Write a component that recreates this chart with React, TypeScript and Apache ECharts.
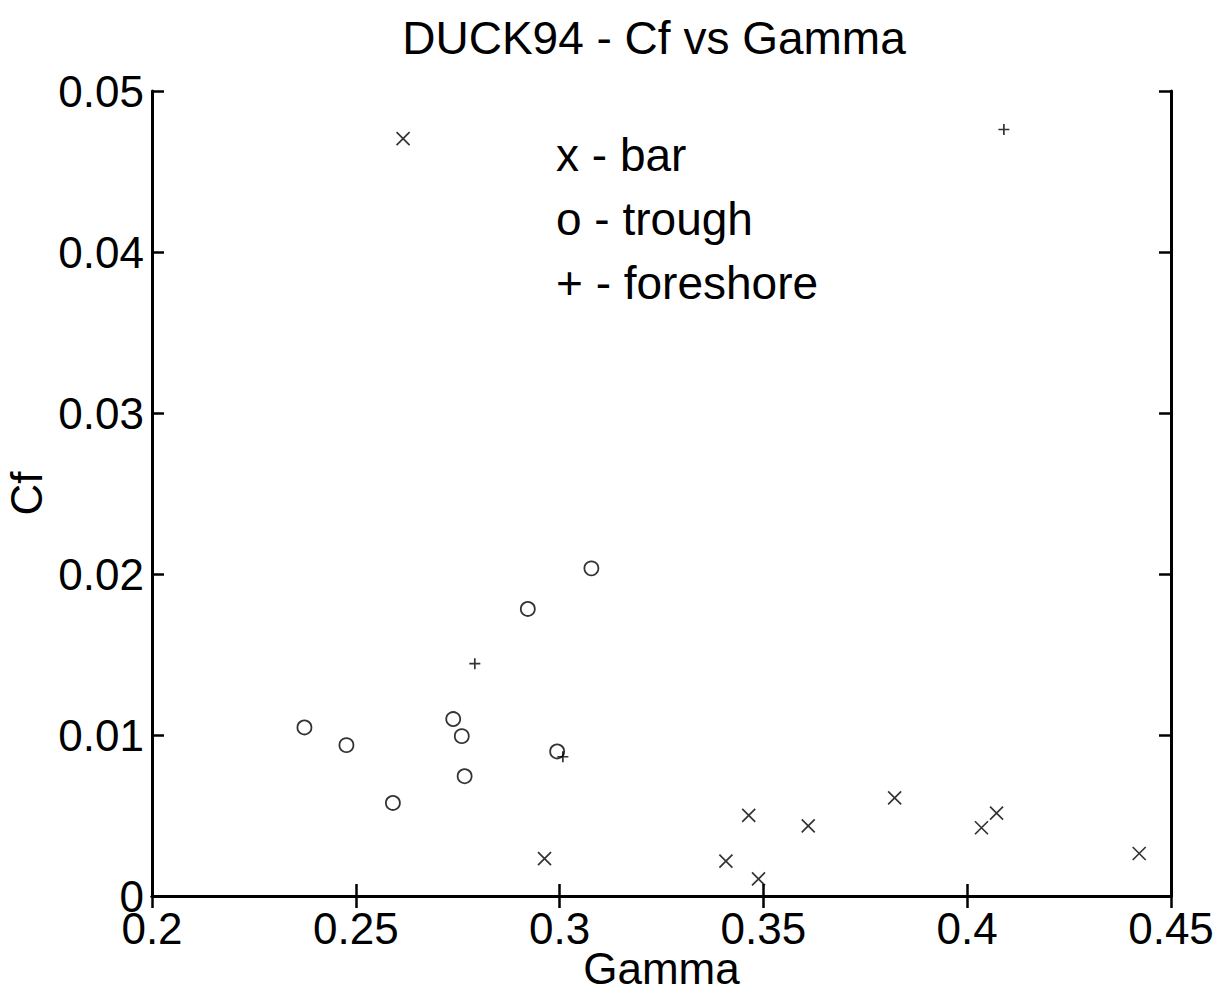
import React, { useEffect, useRef } from "react";
import * as echarts from "echarts";

const titleText = "DUCK94 - Cf vs Gamma";
const xName = "Gamma";
const yName = "Cf";
const legendLines = ["x - bar", "o - trough", "+ - foreshore"];

const barGamma = [0.2616, 0.2963, 0.3408, 0.3464, 0.3488, 0.361, 0.3822, 0.4035, 0.4072, 0.4422];
const barCf = [0.04704, 0.00232, 0.00216, 0.00501, 0.00106, 0.00436, 0.0061, 0.00424, 0.00515, 0.00264];

const troughGamma = [0.2374, 0.2477, 0.2591, 0.2739, 0.276, 0.2767, 0.2922, 0.2994, 0.3078];
const troughCf = [0.01047, 0.00937, 0.00578, 0.01099, 0.00993, 0.00744, 0.01783, 0.00898, 0.02035];

const foreGamma = [0.2792, 0.3008, 0.409];
const foreCf = [0.01443, 0.00865, 0.04761];

const xTicks = { min: 0.2, max: 0.45, interval: 0.05 };
const yTicks = { min: 0, max: 0.05, interval: 0.01 };

const FONT = "'Liberation Sans', Arial, Helvetica, sans-serif";

const pairs = (xs: number[], ys: number[]) => xs.map((x, i) => [x, ys[i]]);

export default function App() {
  const ref = useRef<HTMLDivElement>(null);
  useEffect(() => {
    if (!ref.current) return;
    const chart = echarts.init(ref.current, null, { renderer: "svg" });
    const axisLine = { show: true, lineStyle: { color: "#000", width: 3 } };
    const axisTick = { show: true, inside: true, length: 12, lineStyle: { color: "#000", width: 2.5 } };
    const labelStyle = { color: "#000", fontSize: 44, fontFamily: FONT };
    const mkX = (pos: "bottom" | "top", main: boolean) => ({
      type: "value",
      position: pos,
      ...xTicks,
      axisLine,
      axisTick,
      splitLine: { show: false },
      axisLabel: main ? { ...labelStyle, margin: 10, showMinLabel: true, showMaxLabel: true, hideOverlap: false } : { show: false },
      name: main ? xName : "",
      nameLocation: "middle",
      nameGap: 50,
      nameMoveOverlap: false,
      nameTextStyle: { ...labelStyle },
    });
    const mkY = (pos: "left" | "right", main: boolean) => ({
      type: "value",
      position: pos,
      ...yTicks,
      axisLine,
      axisTick,
      splitLine: { show: false },
      axisLabel: main ? { ...labelStyle, margin: 8, hideOverlap: false } : { show: false },
      name: main ? yName : "",
      nameLocation: "middle",
      nameGap: 104,
      nameMoveOverlap: false,
      nameTextStyle: { ...labelStyle },
    });
    const common = { type: "scatter", silent: true, emphasis: { disabled: true } };
    chart.setOption({
      animation: false,
      backgroundColor: "#fff",
      grid: { left: 152, right: 57, top: 91, bottom: 99, containLabel: false, outerBoundsMode: "none" },
      xAxis: [mkX("bottom", true), mkX("top", false)],
      yAxis: [mkY("left", true), mkY("right", false)],
      graphic: [
        {
          type: "text",
          x: 654,
          y: 38,
          style: { text: titleText, fill: "#000", fontSize: 46, fontFamily: FONT, align: "center", verticalAlign: "middle" },
        },
        ...legendLines.map((t, i) => ({
          type: "text",
          x: 556,
          y: 155 + i * 64,
          style: { text: t, fill: "#000", fontSize: 46, fontFamily: FONT, align: "left", verticalAlign: "middle" },
        })),
      ],
      series: [
        {
          ...common,
          name: "bar",
          data: pairs(barGamma, barCf),
          symbol: "path://M0,0L10,10M10,0L0,10",
          symbolSize: 13,
          itemStyle: { color: "transparent", borderColor: "#000", borderWidth: 1.7 },
        },
        {
          ...common,
          name: "trough",
          data: pairs(troughGamma, troughCf),
          symbol: "circle",
          symbolSize: 14,
          itemStyle: { color: "transparent", borderColor: "#000", borderWidth: 1.8 },
        },
        {
          ...common,
          name: "foreshore",
          data: pairs(foreGamma, foreCf),
          symbol: "path://M5,0L5,10M0,5L10,5",
          symbolSize: 11,
          itemStyle: { color: "transparent", borderColor: "#000", borderWidth: 1.7 },
        },
      ],
    });
    return () => chart.dispose();
  }, []);
  return <div ref={ref} style={{ position: "fixed", left: 0, top: 0, width: 1228, height: 995 }} />;
}
